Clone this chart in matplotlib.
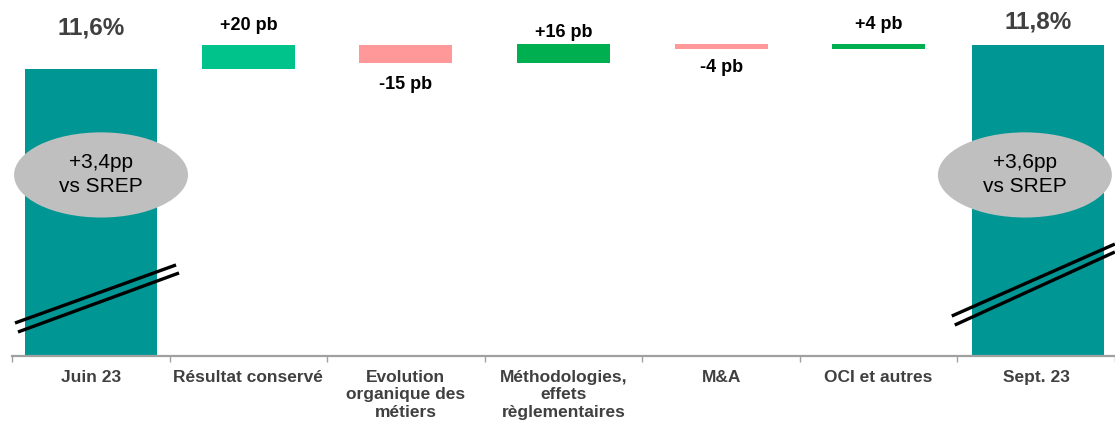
import matplotlib
matplotlib.use("Agg")
import matplotlib.pyplot as plt
from matplotlib.patches import Ellipse
import numpy as np

plt.rcParams['font.family'] = ['Liberation Sans', 'DejaVu Sans']

# CET1 ratio bridge, June -> September 2023
categories = ["Juin 23", "Résultat conservé", "Evolution\norganique des\nmétiers",
              "Méthodologies,\neffets\nrèglementaires", "M&A", "OCI et autres", "Sept. 23"]
start_ratio = 11.6
end_ratio = 11.8
deltas_pb = [20, -15, 16, -4, 4]
ratio_labels = ["11,6%", "11,8%"]
delta_labels = ["+20 pb", "-15 pb", "+16 pb", "-4 pb", "+4 pb"]
srep_labels = ["+3,4pp\nvs SREP", "+3,6pp\nvs SREP"]

teal = "#009694"
delta_colors = ["#00C28B", "#FF9999", "#00B050", "#FF9999", "#00B050"]

y_min, y_max = 9.208, 12.175

fig = plt.figure(figsize=(11.15, 4.24), dpi=100)
ax = fig.add_axes([12 / 1115, 68 / 424, 1 - 12 / 1115, 1 - 68 / 424])
ax.set_xlim(-0.5, 6.5)
ax.set_ylim(y_min, y_max)

# totals
x_tot = [0, 6.01]
ax.bar(x_tot, [start_ratio - y_min, end_ratio - y_min], bottom=y_min,
       width=0.835, color=teal, zorder=2)
ratio_offsets = [41, 23]
for x, v, lab, off in zip(x_tot, [start_ratio, end_ratio], ratio_labels, ratio_offsets):
    ax.annotate(lab, (x, v), xytext=(0, off * 0.72), textcoords="offset points",
                ha="center", va="center", fontsize=17.5, fontweight="bold", color="#404040")

# floating deltas
level = start_ratio
label_offsets = [19, 22, 11, 19, 19]
for i, (d, c, lab, off) in enumerate(zip(deltas_pb, delta_colors, delta_labels, label_offsets)):
    x = i + 1
    h = d / 100
    ax.bar(x, h, bottom=level, width=0.59, color=c, zorder=2)
    top = max(level, level + h)
    bot = min(level, level + h)
    if d > 0:
        ax.annotate(lab, (x, top), xytext=(0, off * 0.72), textcoords="offset points",
                    ha="center", va="center", fontsize=13, fontweight="bold", color="black")
    else:
        ax.annotate(lab, (x, bot), xytext=(0, -off * 0.72), textcoords="offset points",
                    ha="center", va="center", fontsize=13, fontweight="bold", color="black")
    level += h

# SREP buffer bubbles
for xc, lab in zip([0.065, 5.928], srep_labels):
    ax.add_patch(Ellipse((xc, 10.717), 1.104, 0.71, facecolor="#BFBFBF",
                         edgecolor="none", zorder=3))
    ax.text(xc, 10.72, lab, ha="center", va="center", fontsize=15,
            color="black", linespacing=1.3, zorder=4)

# axis break marks on total bars
breaks = [
    [(-0.481, 0.541), (9.483, 9.967)],
    [(-0.462, 0.560), (9.408, 9.900)],
    [(5.464, 6.499), (9.541, 10.141)],
    [(5.483, 6.499), (9.466, 10.075)],
]
for xs, ys in breaks:
    ax.plot(xs, ys, color="black", lw=2.4, solid_capstyle="butt", zorder=5, clip_on=False)

for s in ["top", "right", "left"]:
    ax.spines[s].set_visible(False)
ax.spines["bottom"].set_color("#A0A0A0")
ax.spines["bottom"].set_linewidth(1.6)
ax.set_yticks([])

ax.set_xticks(np.arange(-0.5, 7.0, 1.0))
ax.set_xticklabels([])
ax.tick_params(axis="x", which="major", length=4, width=1, color="#A0A0A0", direction="out")
ax.set_xticks(np.arange(7), minor=True)
ax.set_xticklabels(categories, minor=True, fontsize=12.5, fontweight="bold",
                   color="#404040", linespacing=1.2)
ax.tick_params(axis="x", which="minor", length=0, pad=10)

fig.savefig("out.png", dpi=100)
